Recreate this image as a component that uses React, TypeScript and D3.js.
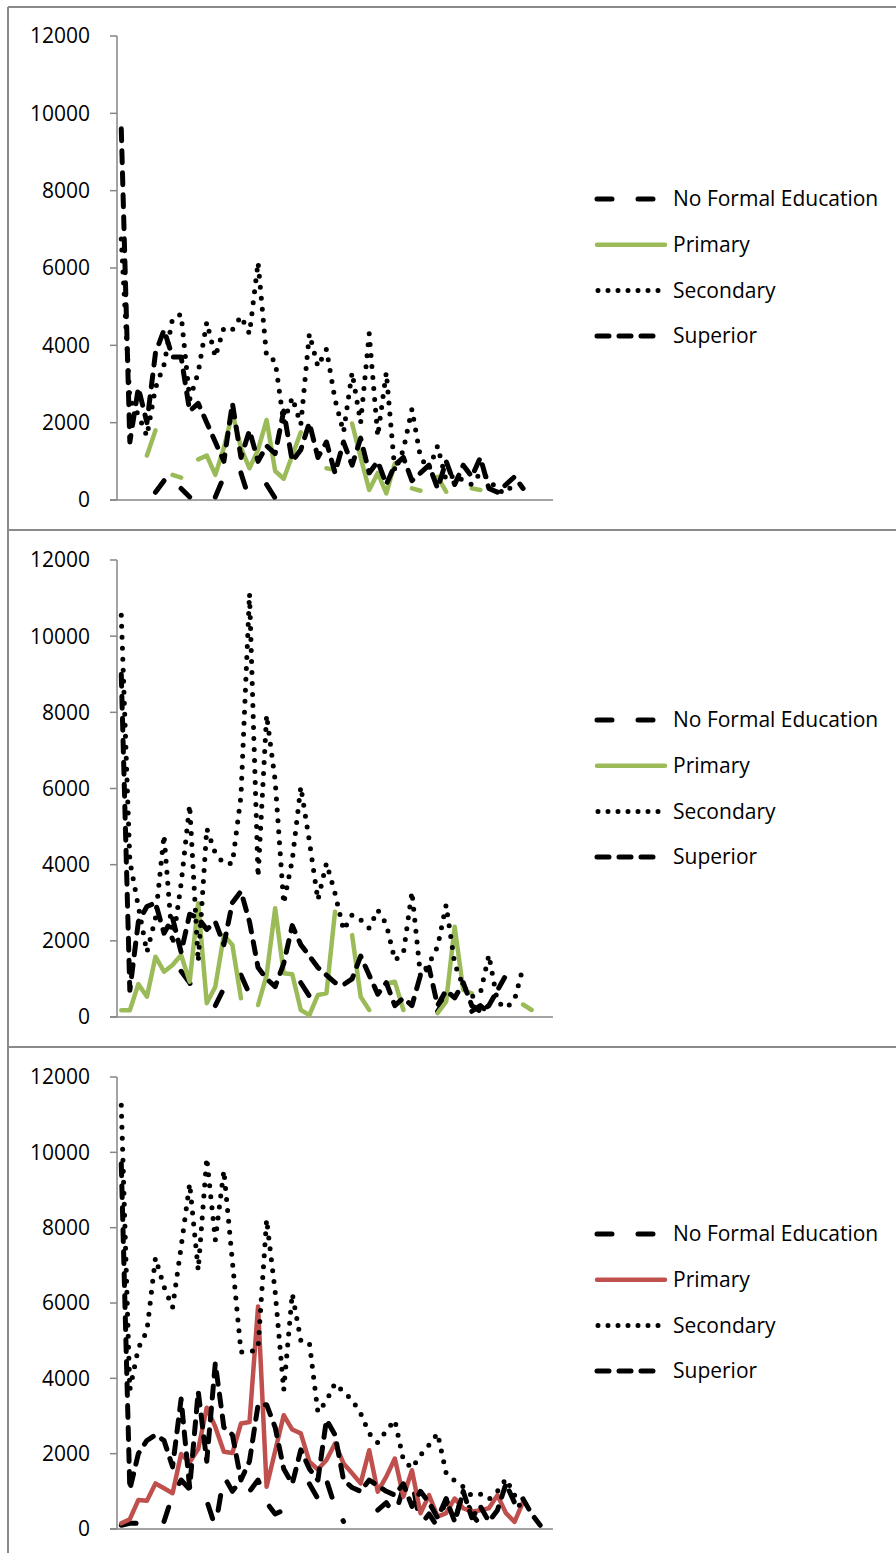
import React from "react";
import * as d3 from "d3";

type V = number | null;

const categories: string[] = Array.from({ length: 51 }, (_, i) => `C${i + 1}`);
const yTicks = [0, 2000, 4000, 6000, 8000, 10000, 12000];
const seriesNames = ["No Formal Education", "Primary", "Secondary", "Superior"];

// ---------- Panel 1 ----------
const p1NoFormal: V[] = [null, null, null, null, 200, 500, null, 300, 80, null, null, 80, 600, null, 700, 0, null, 400, 50];
const p1Primary: V[] = [null, null, null, 1150, 1800, null, 650, 580, null, 1050, 1150, 650, 1350, 2250, 1350, 820, 1300, 2070, 750, 550, 1150, 1750, null, null, 820, 780, null, 1980, 1100, 260, 700, 170, 950, null, 300, 240, null, 600, 215, null, null, 300, 260];
const p1Secondary: V[] = [6750, 2600, 2200, 1650, 2900, 3500, 4700, 4800, 2600, 3300, 4600, 3700, 4450, 4400, 4750, 4300, 6150, 3700, 3600, 2000, 2650, 1950, 4300, 3450, 3900, 2600, 1750, 3300, 2000, 4300, 1650, 3300, 750, 1300, 2350, 1100, 800, 1400, 500, 650, 500, 400, 700, 550, 250, 180, 450];
const p1Superior: V[] = [9600, 1500, 2900, 2000, 3800, 4400, 3700, 3700, 2300, 2500, 2000, 1500, 1000, 2500, 1100, 1800, 1000, 1400, 1200, 2300, 1000, 1300, 2000, 1100, 1500, 700, 1500, 900, 1600, 700, 1000, 400, 900, 1100, 500, 700, 900, 300, 1000, 400, 900, 600, 1100, 300, 200, 400, 600, 300];

// ---------- Panel 2 ----------
const p2NoFormal: V[] = [null, null, null, null, null, null, null, 1200, 900, 400, null, 300, 750, null, 1100, 600, 250, null, null, null, null, 900, 550, 200, null, null, null, null, null, null, null, null, null, null, null, null, null, 150, 500, null, null, 150, 300, 100];
const p2Primary: V[] = [175, 175, 866, 534, 1584, 1190, 1365, 1628, 928, 2984, 359, 796, 2150, 1890, 490, null, 315, 1100, 2853, 1146, 1120, 184, 50, 578, 621, 2765, null, 2150, 534, 184, null, 884, 928, 184, null, null, null, 100, 400, 2371, 709, 620, null, null, null, null, null, 328, 184];
const p2Secondary: V[] = [10550, 4100, 2900, 1700, 2600, 4780, 1900, 3500, 5570, 1450, 4950, 4300, 4030, 4030, 5800, 11120, 3680, 7930, 6210, 2980, 4120, 6050, 4620, 3070, 4040, 3250, 2280, 2680, 2550, 2330, 2810, 2440, 1490, 1670, 3290, 1070, 1400, 1850, 2940, 1400, 805, 534, 621, 1628, 402, 236, 446, 1304];
const p2Superior: V[] = [9000, 700, 2500, 2900, 3000, 2200, 2600, 1700, 2700, 2600, 2300, 2500, 1900, 3000, 3300, 2500, 1300, 1000, 800, 1400, 2400, 1900, 1600, 1300, 1100, 900, 850, 1000, 1600, 1100, 600, 900, 300, 500, 300, 1100, 1300, 300, 700, 500, 900, 300, 150, 300, 700, 1100];

// ---------- Panel 3 ----------
const p3NoFormal: V[] = [100, 150, 150, 200, null, 200, 900, 1300, 1050, 900, 750, 50, 1400, 1000, 1300, 1000, 1300, 700, 400, 500, 200, null, 1200, 800, 1300, 600, 200, null, null, null, 500, 700, 350, 1100, 1300, 100, 400, 50, 800, 200, 1000, 400, 100, 250, 300];
const p3Primary: V[] = [150, 260, 770, 750, 1210, 1080, 950, 1990, 1770, 2120, 3220, 2710, 2050, 2020, 2800, 2840, 5910, 1120, 2070, 3020, 2640, 2540, 1790, 1580, 1830, 2270, 1740, 1480, 1210, 2090, 990, 1390, 1870, 860, 1560, 420, 900, 330, 420, 810, 550, 460, 500, 550, 900, 420, 190, 720];
const p3Secondary: V[] = [11250, 3700, 4800, 5260, 7200, 6430, 5880, 7490, 9170, 6870, 9850, 7670, 9520, 7100, 4700, 4690, 4800, 8220, 6300, 3690, 6250, 5010, 4950, 3100, 3400, 3870, 3640, 3420, 3070, 2540, 2290, 2610, 2890, 1830, 1610, 1960, 2230, 2540, 1480, 1280, 1120, 880, 930, 790, 1000, 1330, 900, 420];
const p3Superior: V[] = [9700, 1050, 2000, 2350, 2500, 2350, 1650, 3450, 1100, 3650, 1800, 4400, 2700, 2500, 1300, 1800, 3300, 3300, 2700, 1600, 1200, 2100, 1600, 1300, 2900, 2500, 1300, 1100, 1000, 1300, 1150, 1000, 900, 1200, 600, 1000, 700, 300, 800, 200, 1000, 300, 600, 200, 500, 1200, 700, 800, 400, 100];

const PLOT_LEFT = 117;
const PLOT_RIGHT = 553;

const panels = [
  { top: 7, y0: 500, y12: 36, legendY: 199, primaryColor: "#9BBB59", data: [p1NoFormal, p1Primary, p1Secondary, p1Superior] },
  { top: 530, y0: 1017, y12: 560, legendY: 720, primaryColor: "#9BBB59", data: [p2NoFormal, p2Primary, p2Secondary, p2Superior] },
  { top: 1047, y0: 1529, y12: 1077, legendY: 1234, primaryColor: "#C0504D", data: [p3NoFormal, p3Primary, p3Secondary, p3Superior] },
];

const x = d3.scalePoint<string>().domain(categories).range([PLOT_LEFT, PLOT_RIGHT]).padding(0.5);

function styleFor(k: number, primaryColor: string) {
  if (k === 0) return { stroke: "#000", width: 5, dash: "15 26" };
  if (k === 1) return { stroke: primaryColor, width: 4.5, dash: undefined as string | undefined };
  if (k === 2) return { stroke: "#000", width: 5, dash: "0 11" };
  return { stroke: "#000", width: 5, dash: "12 10" };
}

function legendDash(k: number) {
  if (k === 0) return { x1: 597, x2: 665, dash: "15 26" };
  if (k === 1) return { x1: 597, x2: 665, dash: undefined as string | undefined };
  if (k === 2) return { x1: 598, x2: 659, dash: "0 10" };
  return { x1: 597, x2: 657, dash: "12 10" };
}

const FONT = "'Open Sans', 'Noto Sans', sans-serif";

function Panel({ p }: { p: (typeof panels)[number] }) {
  const y = d3.scaleLinear().domain([0, 12000]).range([p.y0, p.y12]);
  const line = d3
    .line<V>()
    .defined((d) => d !== null && d !== undefined)
    .x((_, i) => x(categories[i]) as number)
    .y((d) => y(d as number));
  return (
    <g>
      <line x1={8} x2={896} y1={p.top} y2={p.top} stroke="#8a8a8a" strokeWidth={2} />
      <line x1={PLOT_LEFT} x2={PLOT_LEFT} y1={y(12000)} y2={y(0)} stroke="#868686" strokeWidth={1.5} />
      {yTicks.map((t) => (
        <g key={t}>
          <line x1={PLOT_LEFT - 7} x2={PLOT_LEFT} y1={y(t)} y2={y(t)} stroke="#868686" strokeWidth={1.5} />
          <text x={90} y={y(t)} dy="0.35em" textAnchor="end" fontFamily={FONT} fontSize={21} fill="#000">
            {t}
          </text>
        </g>
      ))}
      <line x1={PLOT_LEFT - 7} x2={PLOT_RIGHT} y1={y(0)} y2={y(0)} stroke="#868686" strokeWidth={1.5} />
      {p.data.map((series, k) => {
        const s = styleFor(k, p.primaryColor);
        return (
          <path
            key={k}
            d={line(series) || ""}
            fill="none"
            stroke={s.stroke}
            strokeWidth={s.width}
            strokeDasharray={s.dash}
            strokeLinecap="round"
            strokeLinejoin="round"
          />
        );
      })}
      {seriesNames.map((name, k) => {
        const ly = p.legendY + k * 45.7;
        const s = styleFor(k, p.primaryColor);
        const ld = legendDash(k);
        return (
          <g key={name}>
            <line x1={ld.x1} x2={ld.x2} y1={ly} y2={ly} stroke={s.stroke} strokeWidth={s.width} strokeDasharray={ld.dash} strokeLinecap="round" />
            <text x={673} y={ly} dy="0.35em" fontFamily={FONT} fontSize={21} fill="#000">
              {name}
            </text>
          </g>
        );
      })}
    </g>
  );
}

export default function App() {
  return (
    <svg width={896} height={1553} style={{ position: "absolute", left: 0, top: 0, background: "#fff" }}>
      <rect x={0} y={0} width={896} height={1553} fill="#fff" />
      <line x1={8} x2={8} y1={7} y2={1553} stroke="#8a8a8a" strokeWidth={2} />
      {panels.map((p, i) => (
        <Panel key={i} p={p} />
      ))}
    </svg>
  );
}
